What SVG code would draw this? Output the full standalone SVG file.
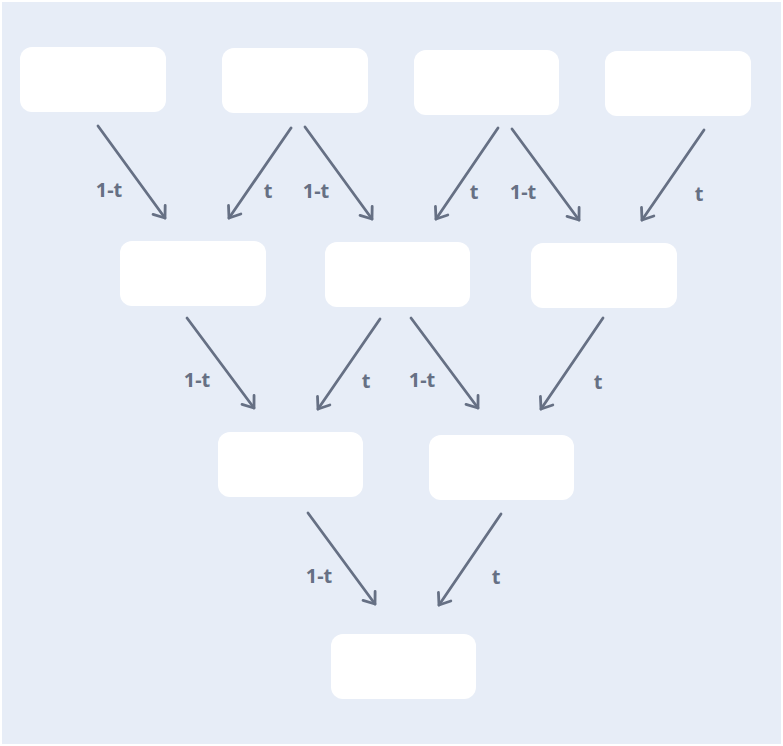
<svg xmlns="http://www.w3.org/2000/svg" width="783" height="746" viewBox="0 0 783 746">
<style>
.node{fill:#ffffff}
.edge{stroke:#667084;stroke-width:2.8;fill:none;stroke-linecap:round;marker-end:url(#ah)}
.lbl{font-family:"Noto Sans","Liberation Sans",sans-serif;font-weight:bold;font-size:20px;fill:#667084;text-anchor:middle}
</style>
<defs>
<marker id="ah" viewBox="0 0 20 20" refX="16" refY="10" markerWidth="20" markerHeight="20" markerUnits="userSpaceOnUse" orient="auto">
<path d="M6,2.5 L16,10 L6,17.5" fill="none" stroke="#667084" stroke-width="2.8" stroke-linecap="round" stroke-linejoin="round"/>
</marker>
</defs>
<rect width="783" height="746" fill="#ffffff"/>
<rect x="2" y="2" width="779" height="742" fill="#e7edf7"/>
<g id="n1"><rect class="node" x="20" y="47" width="146" height="65" rx="12"/></g>
<g id="n2"><rect class="node" x="222" y="48" width="146" height="65" rx="12"/></g>
<g id="n3"><rect class="node" x="414" y="50" width="145" height="65" rx="12"/></g>
<g id="n4"><rect class="node" x="605" y="51" width="146" height="65" rx="12"/></g>
<g id="n5"><rect class="node" x="120" y="241" width="146" height="65" rx="12"/></g>
<g id="n6"><rect class="node" x="325" y="242" width="145" height="65" rx="12"/></g>
<g id="n7"><rect class="node" x="531" y="243" width="146" height="65" rx="12"/></g>
<g id="n8"><rect class="node" x="218" y="432" width="145" height="65" rx="12"/></g>
<g id="n9"><rect class="node" x="429" y="435" width="145" height="65" rx="12"/></g>
<g id="n10"><rect class="node" x="331" y="634" width="145" height="65" rx="12"/></g>
<g id="connectors">
<line class="edge" x1="98" y1="126" x2="165" y2="218"/>
<line class="edge" x1="291" y1="128" x2="229" y2="218"/>
<line class="edge" x1="305" y1="127" x2="372" y2="219"/>
<line class="edge" x1="498" y1="128" x2="436" y2="219"/>
<line class="edge" x1="512" y1="129" x2="579" y2="220"/>
<line class="edge" x1="704" y1="130" x2="642" y2="220"/>
<line class="edge" x1="187" y1="318" x2="254" y2="408"/>
<line class="edge" x1="380" y1="319" x2="318" y2="409"/>
<line class="edge" x1="411" y1="318" x2="478" y2="408"/>
<line class="edge" x1="603" y1="318" x2="541" y2="409"/>
<line class="edge" x1="308" y1="513" x2="375" y2="604"/>
<line class="edge" x1="501" y1="514" x2="439" y2="605"/>
<text class="lbl" x="109" y="197">1-t</text>
<text class="lbl" x="268" y="198">t</text>
<text class="lbl" x="316" y="198">1-t</text>
<text class="lbl" x="474" y="199">t</text>
<text class="lbl" x="523" y="199">1-t</text>
<text class="lbl" x="699" y="201">t</text>
<text class="lbl" x="197" y="387">1-t</text>
<text class="lbl" x="366" y="388">t</text>
<text class="lbl" x="422" y="387">1-t</text>
<text class="lbl" x="598" y="389">t</text>
<text class="lbl" x="319" y="583">1-t</text>
<text class="lbl" x="496" y="584">t</text>
</g>
</svg>
